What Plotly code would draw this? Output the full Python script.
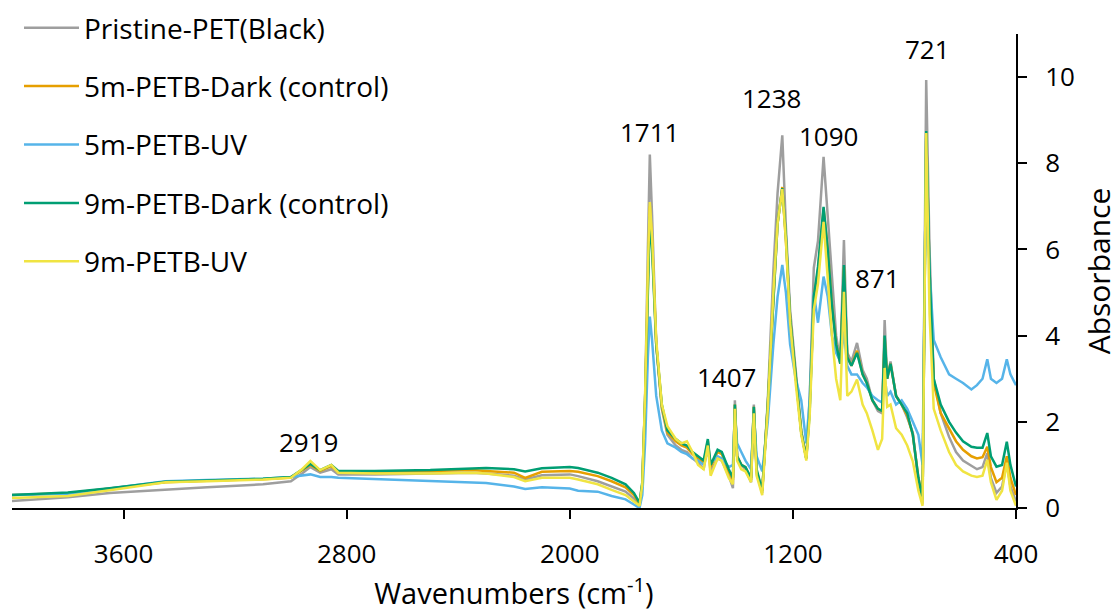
import plotly.graph_objects as go

# ---------------- data ----------------
wavenumber = [
    4000, 3800, 3650, 3450, 3300, 3100, 3000, 2960, 2930, 2895,
    2855, 2830, 2700, 2500, 2350, 2300, 2200, 2160, 2100, 2000,
    1970, 1900, 1850, 1800, 1770, 1750, 1740, 1730, 1720, 1713,
    1705, 1690, 1670, 1650, 1620, 1600, 1580, 1560, 1540, 1520,
    1505, 1495, 1470, 1455, 1430, 1415, 1408, 1400, 1385, 1370,
    1350, 1340, 1330, 1310, 1290, 1270, 1255, 1238, 1225, 1210,
    1190, 1170, 1152, 1140, 1125, 1110, 1090, 1075, 1060, 1045,
    1030, 1017, 1005, 990, 970, 950, 935, 915, 895, 880,
    871, 862, 850, 830, 810, 790, 770, 750, 735, 722,
    710, 695, 670, 640, 615, 590, 560, 540, 520, 503,
    490, 470, 450, 433, 420, 400,
]

pristine_pet = [
    0.16, 0.25, 0.35, 0.43, 0.48, 0.55, 0.62, 0.80, 0.95, 0.82,
    0.90, 0.78, 0.78, 0.80, 0.82, 0.80, 0.75, 0.66, 0.76, 0.78,
    0.74, 0.62, 0.50, 0.38, 0.22, 0.05, 0.50, 2.50, 6.00, 8.20,
    6.80, 3.80, 2.30, 1.70, 1.45, 1.35, 1.30, 1.15, 1.05, 0.90,
    1.45, 0.85, 1.15, 1.10, 0.75, 0.46, 2.50, 1.20, 1.00, 0.90,
    0.60, 2.40, 0.80, 0.35, 2.50, 5.50, 7.30, 8.65, 6.50, 4.60,
    3.20, 1.80, 1.15, 2.50, 5.57, 6.20, 8.15, 6.80, 5.30, 4.00,
    3.40, 6.22, 3.60, 3.40, 3.83, 3.20, 3.00, 2.50, 2.25, 2.20,
    4.36, 3.00, 3.40, 2.60, 2.40, 2.10, 1.75, 0.60, 0.10, 9.93,
    6.00, 3.00, 2.20, 1.65, 1.30, 1.10, 0.98, 0.90, 0.95, 1.27,
    0.70, 0.35, 0.50, 1.05, 0.50, 0.15,
]

petb_5m_dark = [
    0.30, 0.34, 0.45, 0.60, 0.63, 0.67, 0.71, 0.88, 1.00, 0.86,
    0.97, 0.84, 0.84, 0.86, 0.88, 0.86, 0.82, 0.70, 0.84, 0.86,
    0.84, 0.74, 0.62, 0.48, 0.30, 0.10, 0.55, 2.50, 5.40, 7.00,
    6.20, 3.80, 2.35, 1.75, 1.55, 1.45, 1.40, 1.25, 1.15, 1.05,
    1.55, 0.95, 1.30, 1.25, 0.85, 0.65, 2.40, 1.20, 1.00, 0.95,
    0.65, 2.35, 0.85, 0.40, 2.40, 5.00, 6.60, 7.45, 6.20, 4.40,
    3.00, 1.75, 1.15, 2.30, 4.90, 5.50, 6.95, 6.00, 4.70, 3.80,
    3.35, 5.60, 3.50, 3.30, 3.65, 3.10, 2.90, 2.50, 2.30, 2.25,
    3.95, 3.00, 3.35, 2.60, 2.40, 2.15, 1.70, 0.70, 0.20, 8.70,
    5.50, 2.90, 2.20, 1.85, 1.55, 1.35, 1.20, 1.15, 1.18, 1.42,
    0.95, 0.60, 0.70, 1.20, 0.70, 0.30,
]

petb_5m_uv = [
    0.30, 0.33, 0.45, 0.62, 0.65, 0.68, 0.72, 0.75, 0.78, 0.72,
    0.72, 0.70, 0.67, 0.63, 0.60, 0.58, 0.50, 0.44, 0.48, 0.45,
    0.40, 0.38, 0.28, 0.20, 0.08, 0.00, 0.30, 1.50, 3.50, 4.44,
    3.90, 2.60, 1.80, 1.50, 1.40, 1.30, 1.25, 1.15, 1.10, 1.00,
    1.35, 1.05, 1.20, 1.15, 0.95, 1.00, 2.20, 1.50, 1.30, 1.10,
    0.90, 2.20, 1.20, 0.85, 2.00, 3.80, 4.90, 5.64, 5.00, 3.80,
    3.00, 2.50, 1.50, 2.50, 5.00, 4.30, 5.37, 4.90, 4.00, 3.60,
    3.40, 4.10, 3.30, 3.10, 3.10, 2.90, 2.80, 2.60, 2.50, 2.45,
    3.04, 2.60, 2.70, 2.40, 2.50, 2.30, 2.00, 1.70, 1.00, 8.60,
    5.50, 3.90, 3.50, 3.10, 3.00, 2.90, 2.75, 2.85, 3.00, 3.45,
    3.00, 2.90, 3.00, 3.45, 3.10, 2.85,
]

petb_9m_dark = [
    0.30, 0.36, 0.46, 0.61, 0.64, 0.68, 0.72, 0.90, 1.02, 0.88,
    1.00, 0.86, 0.86, 0.88, 0.92, 0.93, 0.90, 0.85, 0.92, 0.95,
    0.93, 0.82, 0.70, 0.55, 0.35, 0.12, 0.60, 2.50, 5.00, 6.76,
    6.00, 3.80, 2.40, 1.80, 1.60, 1.50, 1.45, 1.30, 1.20, 1.10,
    1.60, 1.00, 1.35, 1.30, 0.90, 0.70, 2.40, 1.20, 1.00, 0.95,
    0.70, 2.35, 0.90, 0.40, 2.40, 5.00, 6.60, 7.42, 6.30, 4.40,
    3.00, 1.75, 1.15, 2.20, 4.90, 5.60, 6.99, 6.00, 4.70, 3.80,
    3.35, 5.64, 3.50, 3.30, 3.60, 3.10, 2.90, 2.50, 2.30, 2.25,
    4.00, 3.00, 3.35, 2.60, 2.40, 2.20, 1.70, 0.70, 0.20, 8.75,
    5.50, 3.00, 2.40, 2.00, 1.75, 1.55, 1.42, 1.40, 1.40, 1.74,
    1.20, 0.96, 1.00, 1.54, 1.00, 0.50,
]

petb_9m_uv = [
    0.23, 0.28, 0.41, 0.60, 0.62, 0.66, 0.70, 0.90, 1.09, 0.88,
    1.00, 0.82, 0.80, 0.80, 0.82, 0.80, 0.72, 0.62, 0.70, 0.70,
    0.66, 0.55, 0.42, 0.30, 0.15, 0.05, 0.55, 2.60, 5.50, 7.10,
    6.30, 3.90, 2.40, 1.90, 1.60, 1.50, 1.55, 1.30, 1.00, 0.90,
    1.45, 0.75, 1.15, 1.10, 0.70, 0.55, 2.30, 1.10, 0.90, 0.85,
    0.60, 2.20, 0.75, 0.30, 2.30, 5.00, 6.60, 7.40, 6.20, 4.30,
    2.90, 1.70, 1.10, 2.10, 4.60, 5.20, 6.64, 5.40, 4.00, 3.00,
    2.50, 5.02, 2.60, 2.70, 2.98, 2.40, 2.20, 1.80, 1.35, 1.60,
    3.25, 2.35, 2.40, 1.85, 1.70, 1.45, 1.08, 0.40, 0.05, 8.70,
    4.50, 2.30, 1.80, 1.30, 1.00, 0.85, 0.75, 0.72, 0.75, 1.12,
    0.60, 0.19, 0.40, 1.05, 0.40, 0.05,
]

series_names = [
    "Pristine-PET(Black)",
    "5m-PETB-Dark (control)",
    "5m-PETB-UV",
    "9m-PETB-Dark (control)",
    "9m-PETB-UV",
]
peak_labels = ["2919", "1711", "1407", "1238", "1090", "871", "721"]
x_ticks = [3600, 2800, 2000, 1200, 400]
y_ticks = [0, 2, 4, 6, 8, 10]

# ---------------- styling ----------------
series_values = [pristine_pet, petb_5m_dark, petb_5m_uv, petb_9m_dark, petb_9m_uv]
colors = ["#9E9E9E", "#E69F00", "#56B4E9", "#009E73", "#F0E442"]
# label anchor positions (data coordinates) for the peak annotations
label_pos = [(2936, 1.53), (1713, 8.72), (1437, 3.03), (1275, 9.51),
             (1074, 8.63), (895, 5.33), (719, 10.65)]

FONT = "'Open Sans', Lato, Arial, sans-serif"
FS = 26
FS_BIG = 29

fig = go.Figure()
for i, (name, vals, col) in enumerate(zip(series_names, series_values, colors)):
    fig.add_trace(go.Scatter(
        x=wavenumber, y=vals, mode="lines", name=name,
        line=dict(color=col, width=2.5),
        legendgroup=f"g{i}",
    ))

for txt, (ax, ay) in zip(peak_labels, label_pos):
    fig.add_annotation(x=ax, y=ay, text=txt, showarrow=False,
                       font=dict(family=FONT, size=FS, color="black"),
                       xanchor="center", yanchor="middle")

PLOT_L, PLOT_R, PLOT_T, PLOT_B = 12, 1016, 34, 508
pw, ph = PLOT_R - PLOT_L, PLOT_B - PLOT_T

fig.update_layout(
    width=1119, height=612,
    margin=dict(l=PLOT_L, r=1119 - PLOT_R, t=PLOT_T, b=612 - PLOT_B, autoexpand=False),
    paper_bgcolor="white", plot_bgcolor="white",
    font=dict(family=FONT, size=FS, color="black"),
    showlegend=True,
    legend=dict(
        x=(19 - PLOT_L) / pw, y=(PLOT_B - 3) / ph, xanchor="left", yanchor="top",
        bgcolor="rgba(0,0,0,0)", borderwidth=0,
        font=dict(family=FONT, size=FS_BIG - 1, color="black"),
        itemwidth=55, tracegroupgap=19, traceorder="grouped",
    ),
    xaxis=dict(
        range=[4000, 400], tickvals=x_ticks, ticktext=[str(v) for v in x_ticks],
        ticks="outside", ticklen=9, tickwidth=2, tickcolor="black",
        showline=True, linecolor="black", linewidth=2,
        showgrid=False, zeroline=False, automargin=False,
        ticklabelstandoff=13,
        tickfont=dict(family=FONT, size=FS, color="black"),
        title=dict(text="Wavenumbers (cm<sup>-1</sup>)",
                   font=dict(family=FONT, size=FS_BIG, color="black"), standoff=13),
    ),
    yaxis=dict(
        side="right", range=[0, 11], tickvals=y_ticks,
        ticks="outside", ticklen=9, tickwidth=2, tickcolor="black",
        showline=True, linecolor="black", linewidth=2,
        showgrid=False, zeroline=False, automargin=False,
        ticklabelstandoff=13,
        tickfont=dict(family=FONT, size=FS, color="black"),
        title=dict(text="Absorbance",
                   font=dict(family=FONT, size=FS_BIG + 1, color="black"), standoff=16),
    ),
)

fig.write_html("out.html")
